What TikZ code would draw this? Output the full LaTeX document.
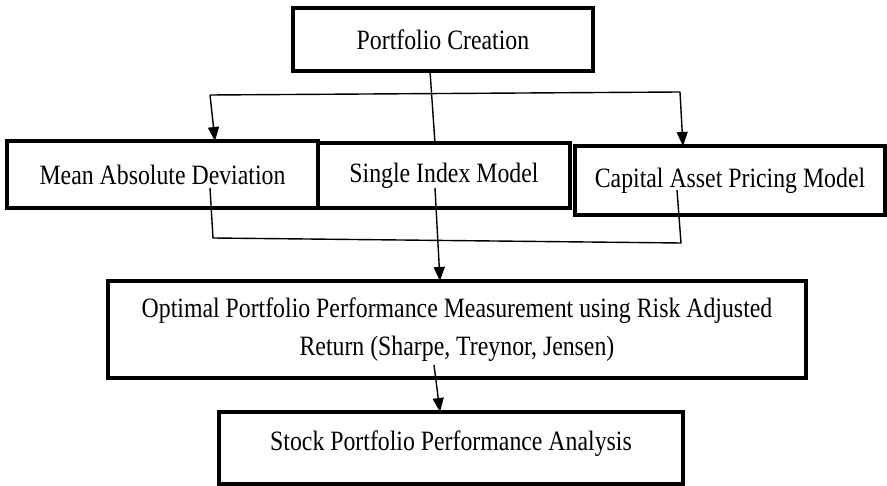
\documentclass[tikz,border=0pt]{standalone}
\usepackage{fontspec}
\setmainfont{Liberation Serif}[FakeStretch=0.85]
\usetikzlibrary{arrows.meta}
\begin{document}
\begin{tikzpicture}[x=1pt,y=-1pt,
  box/.style={draw=black,line width=4.5pt,fill=white,inner sep=0pt,align=center,
    font=\fontsize{28}{38}\selectfont},
  conn/.style={draw=black,line width=1.4pt},
  arr/.style={conn,-{Triangle[length=14pt,width=11pt]}}]
\useasboundingbox (0,0) rectangle (887,486);
\node[box,minimum width=300pt,minimum height=63pt] (pc) at (443,39.5) {Portfolio Creation};
\node[box,minimum width=311pt,minimum height=67pt] (mad) at (162.5,174.5) {Mean Absolute Deviation};
\node[box,minimum width=252pt,minimum height=65pt] (sim) at (444,175.5) {Single Index Model};
\node[box,minimum width=310pt,minimum height=69pt] (capm) at (730,180.5) {Capital Asset Pricing Model};
\node[box,minimum width=698pt,minimum height=97pt] (opt) at (457,329.5) {Optimal Portfolio Performance Measurement using Risk Adjusted\\Return (Sharpe, Treynor, Jensen)};
\node[box,minimum width=464pt,minimum height=72pt,text depth=14pt] (stock) at (451,448) {Stock Portfolio Performance Analysis};
% connector points
\coordinate (pcb) at (430,71);
\coordinate (tl) at (210,95);
\coordinate (tr) at (680,92);
\coordinate (madb) at (210,188);
\coordinate (simb) at (435,188);
\coordinate (capmb) at (677,190);
\coordinate (bl) at (213,238);
\coordinate (br) at (681,243);
\coordinate (optb) at (434,365);
\draw[conn] (pcb) -- (435,143);
\draw[conn] (tl) -- (tr);
\draw[arr] (tl) -- (215,141);
\draw[arr] (tr) -- (683,146);
\draw[conn] (madb) -- (bl) -- (br) -- (capmb);
\draw[arr] (simb) -- (440,281);
\draw[arr] (optb) -- (440,412);
\end{tikzpicture}
\end{document}
